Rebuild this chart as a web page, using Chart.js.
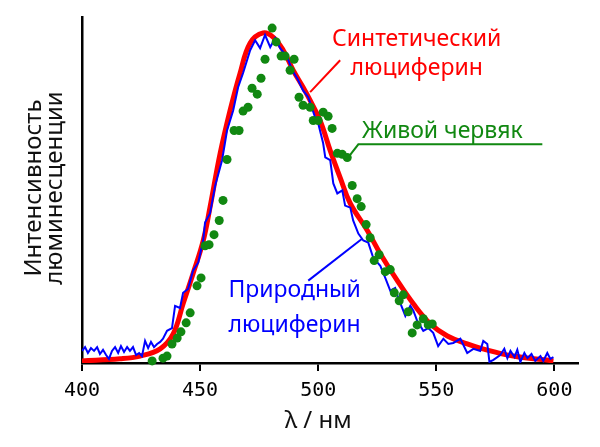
<!DOCTYPE html>
<html>
<head>
<meta charset="utf-8">
<script src="https://cdn.jsdelivr.net/npm/chart.js@4/dist/chart.umd.min.js"></script>
<style>
html, body { margin: 0; padding: 0; background: #fff; }
</style>
</head>
<body>
<canvas id="spectrum" width="600" height="447"></canvas>
<script>
// wavelength (nm) and relative intensity
var synthX = [400, 416.1, 424.6, 433.1, 438.6, 442.8, 447.0, 451.3, 454.2, 458.5, 462.7, 466.9, 471.2, 476.7,
  480.9, 485.2, 489.4, 493.6, 496.6, 500.8, 505.1, 509.3, 513.6, 520.8, 526.3, 533.5, 540.3, 547.5,
  554.7, 563.1, 568.6, 582.6, 599.6];
var synthY = [0.006, 0.012, 0.020, 0.041, 0.084, 0.171, 0.258, 0.353, 0.450, 0.606, 0.730, 0.837, 0.925, 0.954,
  0.942, 0.904, 0.846, 0.797, 0.759, 0.701, 0.614, 0.536, 0.461, 0.383, 0.316, 0.238, 0.171, 0.113,
  0.078, 0.055, 0.043, 0.020, 0.006];

var naturalX = [400.0, 401.3, 402.5, 403.8, 405.1, 406.4, 407.6, 408.9, 410.2, 411.4, 412.7, 414.0, 415.3,
  416.5, 417.8, 419.1, 420.3, 421.6, 422.9, 424.2, 425.4, 426.7, 428.0, 429.2, 430.5, 431.8, 433.1,
  434.3, 436.0, 438.1, 439.4, 441.5, 442.8, 444.9, 447.0, 449.2, 451.3, 452.1, 454.2, 456.4, 459.3,
  461.4, 464.0, 466.1, 468.2, 471.2, 473.3, 475.4, 477.5, 479.7, 481.8, 483.9, 486.9, 489.0, 491.1,
  493.6, 495.8, 498.7, 500.0, 502.1, 503.0, 505.1, 506.4, 508.1, 510.2, 511.4, 513.6, 514.8, 517.0,
  519.1, 521.2, 523.3, 526.3, 528.4, 530.5, 532.6, 533.9, 536.9, 539.0, 540.3, 541.9, 544.5, 546.6,
  548.7, 550.8, 553.0, 555.1, 557.2, 560.2, 563.1, 565.7, 568.6, 569.9, 571.6, 572.5, 574.2, 577.1,
  578.8, 580.1, 581.4, 583.1, 584.3, 585.6, 587.3, 588.6, 590.3, 591.9, 594.1, 595.3, 597.0, 598.3, 599.6];
var naturalY = [0.035, 0.046, 0.029, 0.043, 0.035, 0.046, 0.026, 0.038, 0.023, 0.012, 0.035, 0.046, 0.029,
  0.049, 0.032, 0.046, 0.035, 0.046, 0.023, 0.029, 0.020, 0.064, 0.043, 0.061, 0.046, 0.055, 0.061,
  0.070, 0.093, 0.101, 0.165, 0.159, 0.203, 0.214, 0.267, 0.290, 0.354, 0.406, 0.432, 0.513, 0.586,
  0.672, 0.730, 0.797, 0.838, 0.904, 0.933, 0.910, 0.948, 0.913, 0.939, 0.910, 0.884, 0.846, 0.823,
  0.788, 0.768, 0.710, 0.693, 0.635, 0.594, 0.586, 0.519, 0.490, 0.499, 0.455, 0.449, 0.412, 0.374,
  0.354, 0.348, 0.304, 0.281, 0.246, 0.209, 0.217, 0.188, 0.136, 0.165, 0.151, 0.122, 0.093, 0.101,
  0.087, 0.049, 0.070, 0.055, 0.058, 0.070, 0.029, 0.041, 0.035, 0.064, 0.055, 0.003, 0.009, 0.023,
  0.041, 0.014, 0.035, 0.017, 0.038, 0.003, 0.029, 0.014, 0.026, 0.006, 0.020, 0.006, 0.029, 0.012, 0.017];

var wormX = [429.7, 432.2, 434.3, 436.0, 438.1, 440.3, 441.9, 444.1, 445.8, 448.7, 450.4, 452.1, 453.8,
  455.9, 458.1, 459.7, 461.4, 464.4, 466.5, 468.2, 470.3, 472.0, 474.2, 475.8, 477.5, 480.5, 482.2,
  484.3, 486.0, 488.1, 489.8, 491.9, 493.6, 496.6, 497.9, 500.0, 502.1, 504.2, 505.9, 508.1, 510.2,
  512.3, 514.4, 516.5, 518.2, 520.3, 522.0, 523.7, 525.8, 528.4, 530.5, 532.2, 534.3, 536.0, 538.1,
  539.8, 541.9, 544.5, 546.6, 548.3];
var wormY = [0.006, -0.014, 0.014, 0.020, 0.055, 0.072, 0.090, 0.116, 0.145, 0.223, 0.246, 0.339, 0.342,
  0.371, 0.412, 0.470, 0.588, 0.672, 0.672, 0.728, 0.739, 0.794, 0.777, 0.823, 0.878, 0.968, 0.928,
  0.887, 0.887, 0.846, 0.878, 0.768, 0.745, 0.739, 0.701, 0.701, 0.725, 0.713, 0.678, 0.606, 0.603,
  0.594, 0.513, 0.475, 0.452, 0.400, 0.362, 0.296, 0.313, 0.264, 0.270, 0.203, 0.180, 0.197, 0.148,
  0.087, 0.110, 0.128, 0.110, 0.113];

var xTicks = [400, 450, 500, 550, 600];

function toPoints(xs, ys) {
  return xs.map(function (v, i) { return { x: v, y: ys[i] }; });
}

var textFont = '"Noto Sans", "DejaVu Sans", sans-serif';

// labels with leader lines, and the axis titles
var notesPlugin = {
  id: 'notes',
  afterDraw: function (chart) {
    var ctx = chart.ctx;
    var xs = chart.scales.x, ys = chart.scales.y;
    var X = function (v) { return xs.getPixelForValue(v); };
    var Y = function (v) { return ys.getPixelForValue(v); };
    var area = chart.chartArea;

    function line(x1, y1, x2, y2, color) {
      ctx.beginPath();
      ctx.moveTo(X(x1), Y(y1));
      ctx.lineTo(X(x2), Y(y2));
      ctx.strokeStyle = color;
      ctx.lineWidth = 2;
      ctx.stroke();
    }

    ctx.save();
    ctx.font = '23px ' + textFont;
    ctx.textBaseline = 'alphabetic';

    // synthetic
    ctx.fillStyle = '#ff0000';
    ctx.textAlign = 'center';
    ctx.fillText('Синтетический', X(541.7), Y(0.916));
    ctx.fillText('люциферин', X(541.7), Y(0.832));
    line(509.3, 0.875, 496.6, 0.783, '#ff0000');

    // living worm
    ctx.fillStyle = '#118811';
    ctx.textAlign = 'left';
    ctx.fillText('Живой червяк', X(518.6), Y(0.649));
    ctx.beginPath();
    ctx.moveTo(X(594.9), Y(0.632));
    ctx.lineTo(X(517.0), Y(0.632));
    ctx.lineTo(X(512.7), Y(0.594));
    ctx.strokeStyle = '#118811';
    ctx.lineWidth = 2;
    ctx.stroke();

    // natural
    ctx.fillStyle = '#0000ff';
    ctx.textAlign = 'center';
    ctx.fillText('Природный', X(490.0), Y(0.190));
    ctx.fillText('люциферин', X(490.0), Y(0.090));
    line(495.8, 0.238, 518.6, 0.359, '#0000ff');

    // axis titles
    ctx.fillStyle = '#111';
    ctx.font = '24px ' + textFont;
    ctx.textAlign = 'center';
    ctx.fillText('λ / нм', X(500), 428);

    ctx.translate(0, (area.top + area.bottom) / 2 - 2);
    ctx.rotate(-Math.PI / 2);
    ctx.fillText('Интенсивность', 0, 41);
    ctx.fillText('люминесценции', 0, 62);
    ctx.restore();
  }
};

new Chart(document.getElementById('spectrum'), {
  type: 'scatter',
  data: {
    datasets: [
      {
        label: 'Живой червяк',
        data: toPoints(wormX, wormY),
        backgroundColor: '#118811',
        borderColor: '#118811',
        pointRadius: 4.5,
        pointBorderWidth: 0,
        clip: false,
        order: 1
      },
      {
        label: 'Природный люциферин',
        data: toPoints(naturalX, naturalY),
        showLine: true,
        borderColor: '#0000ff',
        borderWidth: 2,
        pointRadius: 0,
        tension: 0,
        order: 2
      },
      {
        label: 'Синтетический люциферин',
        data: toPoints(synthX, synthY),
        showLine: true,
        borderColor: '#ff0000',
        borderWidth: 5,
        pointRadius: 0,
        tension: 0.4,
        order: 3
      }
    ]
  },
  options: {
    responsive: false,
    animation: false,
    layout: { padding: { top: 17, right: 22, left: 0, bottom: 0 } },
    plugins: {
      legend: { display: false },
      tooltip: { enabled: false }
    },
    scales: {
      x: {
        type: 'linear',
        min: 400,
        max: 610,
        afterBuildTicks: function (scale) {
          scale.ticks = xTicks.map(function (v) { return { value: v }; });
        },
        afterFit: function (scale) { scale.height = 84; },
        ticks: {
          font: { family: 'DejaVu Sans Mono', size: 20 },
          color: '#000',
          padding: 8,
          maxRotation: 0
        },
        grid: {
          drawOnChartArea: false,
          drawTicks: true,
          tickLength: 8,
          color: '#000',
          lineWidth: 2
        },
        border: { display: true, color: '#000', width: 2.5 }
      },
      y: {
        min: 0,
        max: 1,
        afterFit: function (scale) { scale.width = 82; },
        ticks: { display: false },
        grid: { display: false },
        border: { display: true, color: '#000', width: 2.5 }
      }
    }
  },
  plugins: [notesPlugin]
});
</script>
</body>
</html>
